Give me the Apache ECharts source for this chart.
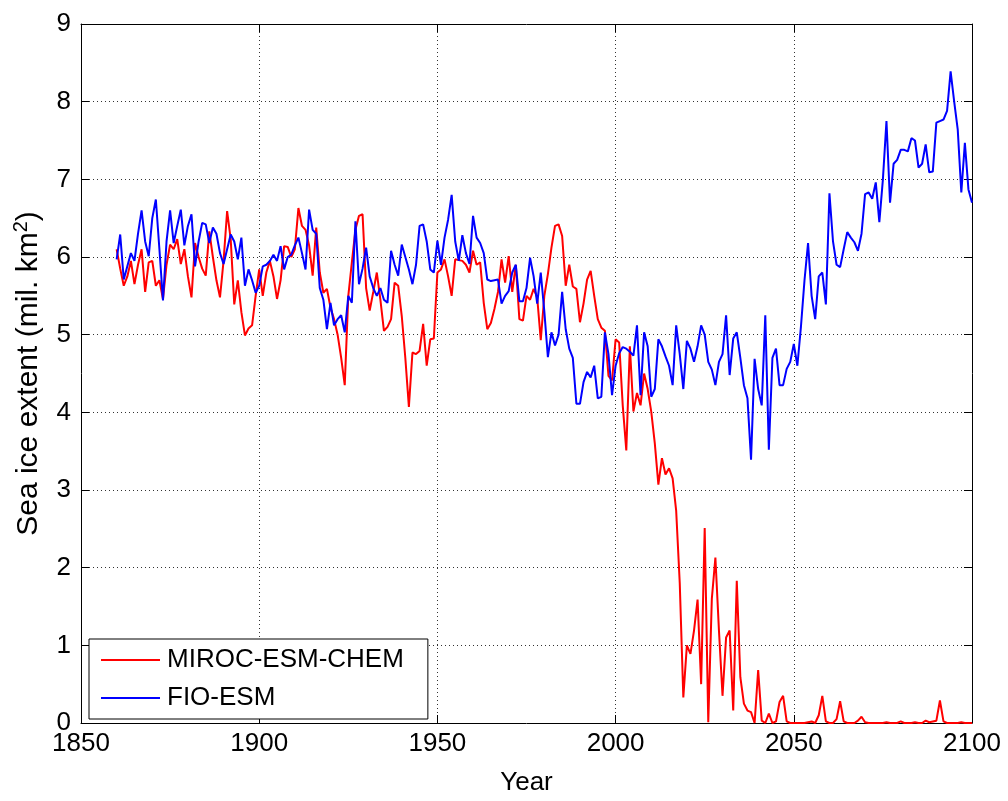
<!DOCTYPE html>
<html>
<head>
<meta charset="utf-8">
<title>Sea ice extent</title>
<script src="https://cdn.jsdelivr.net/npm/echarts@6/dist/echarts.min.js"></script>
<style>
  html, body { margin: 0; padding: 0; background: #fff; }
  #chart { width: 1008px; height: 801px; }
</style>
</head>
<body>
<div id="chart"></div>
<script>
// Annual sea ice extent (million km^2), 1860-2100
const firstYear = 1860;
const lastYear = 2100;

const seriesNames = ['MIROC-ESM-CHEM', 'FIO-ESM'];

const mirocEsmChem = [
  6.10, 5.85, 5.63, 5.75, 5.95, 5.65, 5.90, 6.10, 5.55, 5.93,
  5.95, 5.63, 5.70, 5.46, 5.90, 6.16, 6.10, 6.23, 5.91, 6.10,
  5.75, 5.48, 6.18, 6.00, 5.85, 5.76, 6.33, 6.00, 5.70, 5.48,
  5.95, 6.59, 6.23, 5.39, 5.70, 5.29, 4.99, 5.08, 5.12, 5.50,
  5.84, 5.50, 5.80, 5.95, 5.75, 5.46, 5.70, 6.14, 6.13, 6.00,
  6.10, 6.63, 6.40, 6.35, 6.15, 5.76, 6.38, 5.80, 5.54, 5.59,
  5.35, 5.20, 5.00, 4.70, 4.35, 5.50, 5.93, 6.35, 6.53, 6.55,
  5.60, 5.31, 5.55, 5.80, 5.45, 5.05, 5.10, 5.20, 5.67, 5.63,
  5.24, 4.70, 4.07, 4.77, 4.75, 4.79, 5.14, 4.60, 4.94, 4.95,
  5.80, 5.84, 5.97, 5.75, 5.50, 5.97, 5.96, 5.95, 5.90, 5.80,
  6.08, 5.90, 5.93, 5.41, 5.07, 5.15, 5.33, 5.55, 5.97, 5.67,
  6.01, 5.55, 5.90, 5.20, 5.18, 5.50, 5.45, 5.59, 5.48, 4.93,
  5.50, 5.78, 6.12, 6.40, 6.42, 6.27, 5.63, 5.90, 5.62, 5.59,
  5.16, 5.40, 5.71, 5.82, 5.50, 5.20, 5.09, 5.05, 4.47, 4.41,
  4.94, 4.90, 4.09, 3.51, 4.85, 4.01, 4.25, 4.09, 4.50, 4.30,
  4.01, 3.60, 3.07, 3.41, 3.20, 3.28, 3.15, 2.73, 1.80, 0.33,
  1.00, 0.89, 1.19, 1.59, 0.50, 2.51, 0.01, 1.60, 2.13, 1.19,
  0.35, 1.10, 1.19, 0.16, 1.83, 0.59, 0.25, 0.16, 0.14, 0.00,
  0.68, 0.03, 0.00, 0.12, 0.00, 0.02, 0.27, 0.35, 0.02, 0.00,
  0.00, 0.00, 0.00, 0.00, 0.01, 0.02, 0.00, 0.10, 0.35, 0.02,
  0.00, 0.00, 0.05, 0.28, 0.02, 0.00, 0.00, 0.00, 0.03, 0.08,
  0.01, 0.00, 0.00, 0.00, 0.00, 0.00, 0.01, 0.00, 0.00, 0.00,
  0.02, 0.00, 0.00, 0.00, 0.01, 0.00, 0.00, 0.03, 0.01, 0.02,
  0.03, 0.29, 0.02, 0.00, 0.00, 0.00, 0.00, 0.01, 0.00, 0.00,
  0.00
];

const fioEsm = [
  5.97, 6.29, 5.71, 5.88, 6.05, 5.95, 6.30, 6.60, 6.20, 6.01,
  6.50, 6.74, 6.10, 5.44, 6.20, 6.60, 6.18, 6.40, 6.61, 6.15,
  6.40, 6.55, 5.88, 6.20, 6.44, 6.42, 6.18, 6.38, 6.30, 6.05,
  5.91, 6.10, 6.29, 6.20, 5.97, 6.25, 5.63, 5.84, 5.70, 5.54,
  5.63, 5.88, 5.90, 5.95, 6.03, 5.95, 6.14, 5.84, 6.00, 6.03,
  6.15, 6.25, 6.05, 5.84, 6.61, 6.35, 6.30, 5.60, 5.45, 5.07,
  5.41, 5.12, 5.20, 5.25, 5.03, 5.50, 5.41, 6.46, 5.65, 5.85,
  6.12, 5.75, 5.60, 5.50, 5.60, 5.45, 5.41, 6.08, 5.90, 5.76,
  6.16, 6.00, 5.84, 5.65, 5.90, 6.40, 6.42, 6.20, 5.84, 5.80,
  6.21, 5.90, 6.25, 6.48, 6.80, 6.20, 5.95, 6.28, 6.05, 5.91,
  6.53, 6.25, 6.18, 6.05, 5.71, 5.69, 5.70, 5.71, 5.40, 5.50,
  5.56, 5.80, 5.90, 5.43, 5.43, 5.60, 5.99, 5.75, 5.40, 5.80,
  5.30, 4.71, 5.03, 4.86, 5.00, 5.55, 5.07, 4.82, 4.70, 4.11,
  4.11, 4.39, 4.52, 4.45, 4.60, 4.18, 4.20, 5.03, 4.75, 4.22,
  4.60, 4.76, 4.84, 4.82, 4.78, 4.73, 5.12, 4.22, 5.03, 4.85,
  4.20, 4.30, 4.94, 4.85, 4.72, 4.60, 4.35, 5.12, 4.75, 4.30,
  4.92, 4.82, 4.65, 4.85, 5.12, 5.00, 4.65, 4.55, 4.35, 4.65,
  4.75, 5.25, 4.48, 4.95, 5.03, 4.70, 4.35, 4.18, 3.39, 4.69,
  4.30, 4.09, 5.25, 3.52, 4.70, 4.82, 4.35, 4.35, 4.56, 4.65,
  4.88, 4.60, 5.10, 5.70, 6.18, 5.50, 5.20, 5.75, 5.80, 5.39,
  6.82, 6.20, 5.90, 5.87, 6.10, 6.32, 6.25, 6.19, 6.08, 6.30,
  6.81, 6.83, 6.75, 6.96, 6.45, 7.00, 7.75, 6.70, 7.20, 7.25,
  7.38, 7.38, 7.36, 7.53, 7.50, 7.15, 7.20, 7.45, 7.09, 7.10,
  7.73, 7.75, 7.77, 7.88, 8.39, 8.00, 7.64, 6.83, 7.47, 6.87,
  6.70
];

const xTickMin = 1850, xTickMax = 2100, xTickStep = 50;
const yTickMin = 0, yTickMax = 9, yTickStep = 1;

const years = [];
for (let y = firstYear; y <= lastYear; y++) years.push(y);

const pairs = vals => years.map((yr, i) => [yr, vals[i]]);

const FONT = '"Liberation Sans", Arial, Helvetica, sans-serif';
const gridDots = { color: '#333', width: 1, type: [1, 3] };
const inTicks = { show: true, inside: true, length: 8, lineStyle: { color: '#000', width: 1 } };
const frameLine = { show: true, onZero: false, lineStyle: { color: '#000', width: 1 } };

const chart = echarts.init(document.getElementById('chart'), null, { renderer: 'canvas' });

chart.setOption({
  animation: false,
  backgroundColor: '#fff',
  textStyle: { fontFamily: FONT, color: '#000' },
  grid: { left: 81, right: 36, top: 24, bottom: 75, containLabel: false },
  legend: {
    orient: 'vertical',
    left: 89,
    top: 639,
    padding: [8, 24, 8, 12],
    icon: 'rect',
    itemWidth: 59,
    itemHeight: 2,
    itemGap: 12,
    backgroundColor: '#fff',
    borderColor: '#000',
    borderWidth: 1,
    data: seriesNames,
    textStyle: { fontFamily: FONT, fontSize: 26, color: '#000', padding: [0, 0, 0, 2] }
  },
  xAxis: [
    {
      type: 'value',
      min: xTickMin, max: xTickMax, interval: xTickStep,
      name: 'Year',
      nameLocation: 'middle',
      nameGap: 47,
      nameTextStyle: { fontFamily: FONT, fontSize: 26, color: '#000' },
      axisLine: frameLine,
      axisTick: inTicks,
      axisLabel: { fontFamily: FONT, fontSize: 26, color: '#000', margin: 8, formatter: v => String(v) },
      splitLine: { show: true, lineStyle: gridDots }
    },
    {
      type: 'value', position: 'top',
      min: xTickMin, max: xTickMax, interval: xTickStep,
      axisLine: frameLine, axisTick: inTicks,
      axisLabel: { show: false }, splitLine: { show: false }
    }
  ],
  yAxis: [
    {
      type: 'value',
      min: yTickMin, max: yTickMax, interval: yTickStep,
      name: 'Sea ice extent (mil. km{sup|2})',
      nameLocation: 'middle',
      nameGap: 30,
      nameTextStyle: {
        fontFamily: FONT, fontSize: 30, color: '#000', lineHeight: 34,
        rich: { sup: { fontFamily: FONT, fontSize: 20, color: '#000', verticalAlign: 'top', lineHeight: 18 } }
      },
      axisLine: frameLine,
      axisTick: inTicks,
      axisLabel: { fontFamily: FONT, fontSize: 26, color: '#000', margin: 10 },
      splitLine: { show: true, lineStyle: gridDots }
    },
    {
      type: 'value', position: 'right',
      min: yTickMin, max: yTickMax, interval: yTickStep,
      axisLine: frameLine, axisTick: inTicks,
      axisLabel: { show: false }, splitLine: { show: false }
    }
  ],
  series: [
    {
      name: seriesNames[0],
      type: 'line',
      data: pairs(mirocEsmChem),
      symbol: 'none',
      showSymbol: false,
      color: '#ff0000',
      lineStyle: { color: '#ff0000', width: 2 },
      z: 2
    },
    {
      name: seriesNames[1],
      type: 'line',
      data: pairs(fioEsm),
      symbol: 'none',
      showSymbol: false,
      color: '#0000ff',
      lineStyle: { color: '#0000ff', width: 2 },
      z: 3
    }
  ]
});
</script>
</body>
</html>
